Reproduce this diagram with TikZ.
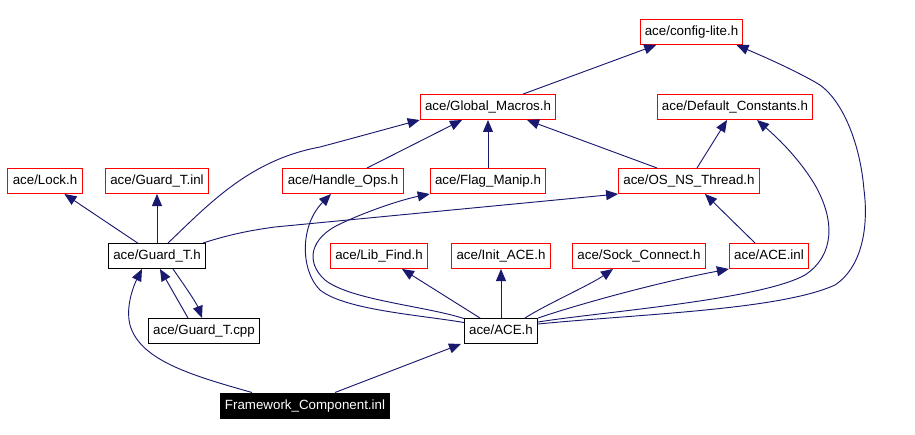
\documentclass[tikz,border=0pt]{standalone}
\usepackage{fontspec}
\setmainfont{Liberation Sans}
\usetikzlibrary{arrows.meta,calc}

\definecolor{edgeblue}{RGB}{25,25,112}

\tikzset{
    hdr/.style={draw=red, line width=0.75pt, inner xsep=3.6pt, inner ysep=0pt,
        minimum height=18.75pt, text height=7.5pt, text depth=2.2pt,
        font=\fontsize{10}{12}\selectfont},
    src/.style={hdr, draw=black},
    top/.style={hdr, draw=black, fill=black, text=white},
    dep/.style={edgeblue, line width=0.7pt, -{Triangle[length=9pt,width=7.5pt]}}
}

\begin{document}
\begin{tikzpicture}[x=0.75pt,y=-0.75pt]
    \useasboundingbox (0,0) rectangle (915,435);

    % Headers
    \node[hdr] (cfg) at (691.5,32) {ace/config-lite.h};
    \node[hdr] (gmac) at (488,107) {ace/Global\_Macros.h};
    \node[hdr] (dcon) at (735,107) {ace/Default\_Constants.h};
    \node[hdr] (lock) at (45,181) {ace/Lock.h};
    \node[hdr] (ginl) at (157,181) {ace/Guard\_T.inl};
    \node[hdr] (hops) at (343,181) {ace/Handle\_Ops.h};
    \node[hdr] (flag) at (488,181) {ace/Flag\_Manip.h};
    \node[hdr] (osth) at (689,181) {ace/OS\_NS\_Thread.h};
    \node[src] (gth) at (157,256) {ace/Guard\_T.h};
    \node[hdr] (libf) at (379,256) {ace/Lib\_Find.h};
    \node[hdr] (init) at (501,256) {ace/Init\_ACE.h};
    \node[hdr] (sock) at (639,256) {ace/Sock\_Connect.h};
    \node[hdr] (ainl) at (769,256) {ace/ACE.inl};
    \node[src] (gcpp) at (204,331) {ace/Guard\_T.cpp};
    \node[src] (aceh) at (501,331) {ace/ACE.h};
    \node[top] (fwc) at (305,405.5) {Framework\_Component.inl};

    % Top layer
    \draw[dep] (gmac) -- (cfg);
    \draw[dep] ($(osth.north)+(-32,0)$) -- ($(gmac.south)+(39,0)$);
    \draw[dep] ($(osth.north)+(8,0)$) -- ($(dcon.south)+(-8,0)$);
    \draw[dep] (flag) -- (gmac);
    \draw[dep] ($(hops.north)+(24,0)$) -- ($(gmac.south)+(-26,0)$);
    \draw[dep] ($(ainl.north)+(-14,0)$) -- ($(osth.south)+(16,0)$);

    % Guard_T.h
    \draw[dep] (gth) -- (lock);
    \draw[dep] (gth) -- (ginl);
    \draw[dep] ($(gth.north)+(11,0)$) .. controls (210,203) and (250,160) .. (320,147)
        .. controls (350,139) and (390,128) .. (gmac.south west);
    \draw[dep] ($(gth.north east)+(-3,0)$) .. controls (225,236) and (245,231) .. (275,227)
        -- (osth.south west);
    \draw[dep] ($(gth.south)+(16,0)$) .. controls (182,282) and (196,302) .. ($(gcpp.north)+(-2,0)$);
    \draw[dep] ($(gcpp.north)+(-16,0)$) -- ($(gth.south)+(3,0)$);

    % ACE.h
    \draw[dep] ($(aceh.north)+(-21,0)$) -- ($(libf.south)+(23,0)$);
    \draw[dep] (aceh) -- (init);
    \draw[dep] ($(aceh.north)+(24,0)$) .. controls (545,305) and (590,285) .. ($(sock.south)+(-26,0)$);
    \draw[dep] (aceh.north east) .. controls (570,307) and (650,284) .. (ainl.south west);
    \draw[dep] ($(aceh.north west)+(0,4.5)$) .. controls (420,315) and (345,310) .. (320,290)
        .. controls (300,270) and (300,225) .. ($(hops.south)+(-12,0)$);
    \draw[dep] ($(aceh.north west)+(0,0.5)$) .. controls (425,306) and (350,300) .. (325,280)
        .. controls (305,262) and (310,238) .. (340,224)
        .. controls (365,212) and (400,200) .. (flag.south west);
    \draw[dep] ($(aceh.east)+(0,-9)$) .. controls (600,312) and (760,300) .. (805,275)
        .. controls (835,255) and (835,220) .. (815,185)
        .. controls (800,160) and (780,140) .. ($(dcon.south)+(22,0)$);
    \draw[dep] ($(aceh.east)+(0,-7)$) .. controls (640,314) and (780,310) .. (835,285)
        .. controls (865,265) and (868,220) .. (864,190)
        .. controls (860,140) and (840,95) .. (815,82)
        .. controls (790,68) and (760,55) .. ($(cfg.south)+(45,0)$);

    % Framework_Component.inl
    \draw[dep] ($(fwc.north)+(-53,0)$) .. controls (190,375) and (140,360) .. (130,325)
        .. controls (125,305) and (135,283) .. ($(gth.south)+(-15,0)$);
    \draw[dep] ($(fwc.north)+(30,0)$) -- ($(aceh.south)+(-40,0)$);
\end{tikzpicture}
\end{document}
